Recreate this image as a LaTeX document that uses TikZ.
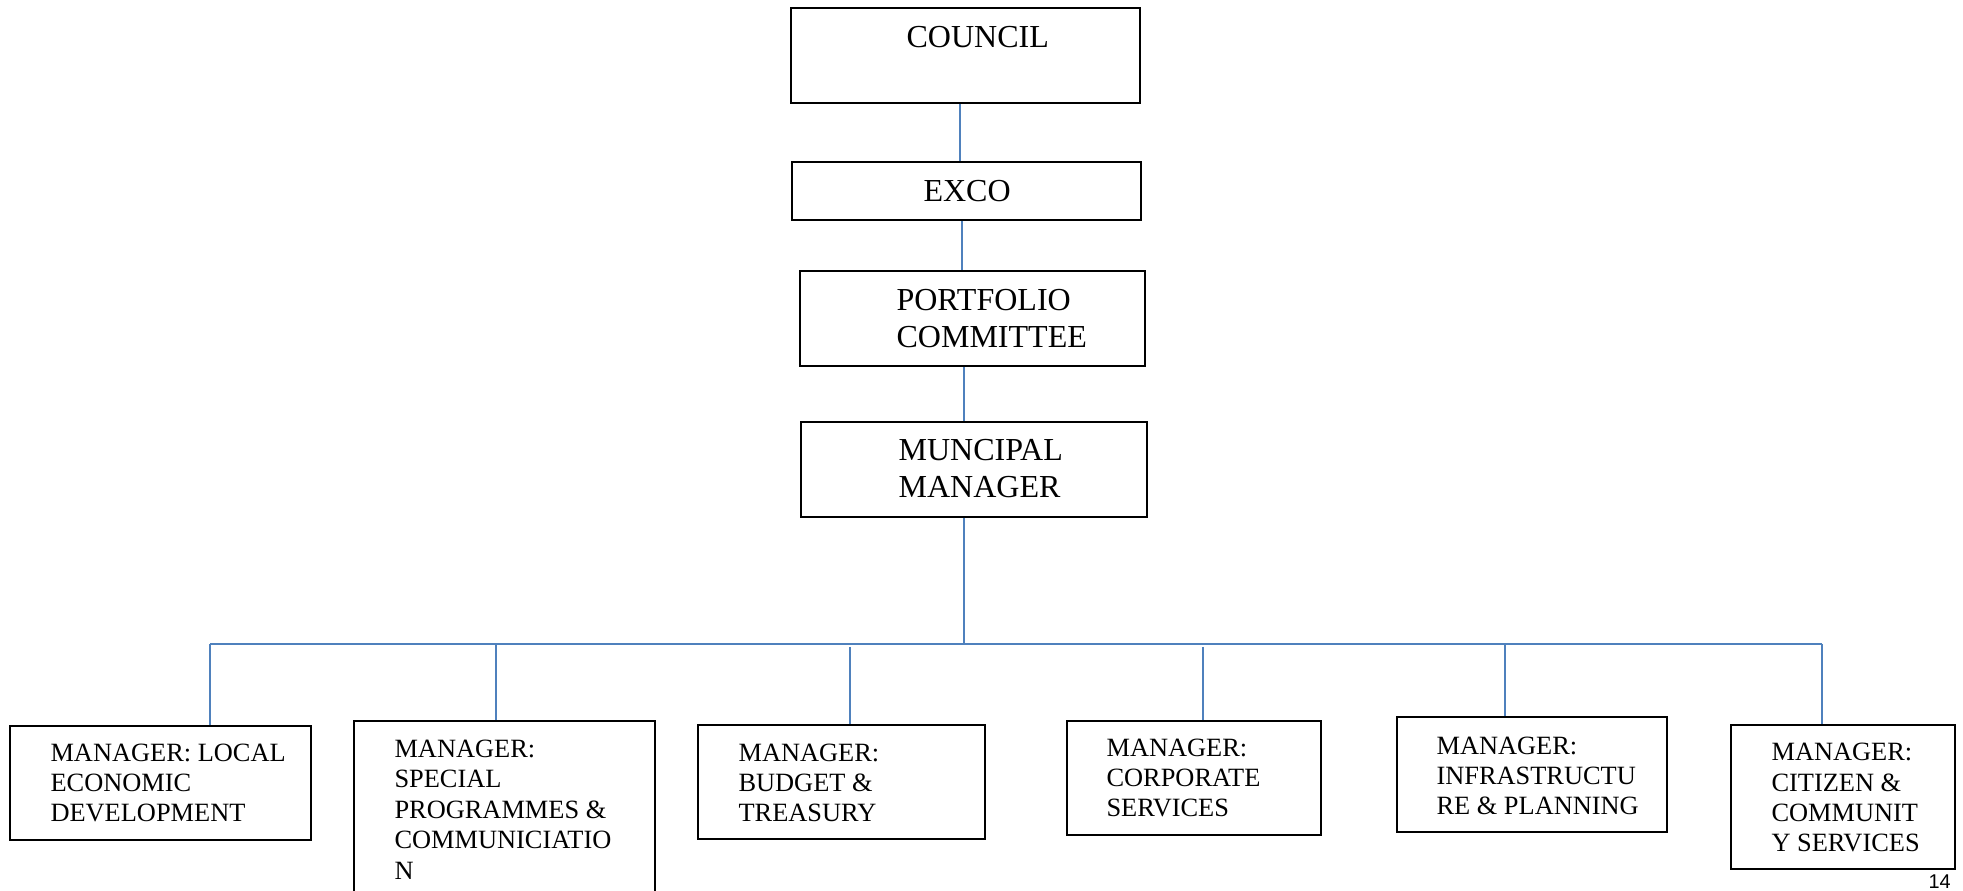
\documentclass[tikz,border=0pt]{standalone}
\usepackage{fontspec}
\setmainfont{Liberation Serif}
\newfontfamily\pagefont{Liberation Sans}
\usepackage{tikz}
\usetikzlibrary{fit}
\definecolor{LinkBlue}{RGB}{79,129,189}
\tikzstyle{unit} = [rectangle, draw=black, line width=0.6pt, inner sep=0pt]
\tikzstyle{toplabel} = [anchor=base west, align=left, inner sep=0pt, font=\fontsize{11.9}{13.75}\selectfont]
\tikzstyle{mgrlabel} = [anchor=base west, align=left, inner sep=0pt, font=\fontsize{9.8}{11.33}\selectfont]
\tikzstyle{link} = [draw=LinkBlue, line width=0.5pt]

\begin{document}
\begin{tikzpicture}[x=0.3715pt, y=-0.3715pt]
      \clip (0,0) rectangle (1963,891);
      % top of the chain
      \node (council) [unit, fit={(791,8) (1140,103)}] {};
      \node (council_txt) [toplabel] at (906,48) {COUNCIL};
      \node (exco) [unit, fit={(792,162) (1141,220)}] {};
      \node (exco_txt) [toplabel] at (923,202) {EXCO};
      \draw [link] (council.south -| 960,0) -- (exco.north -| 960,0);
      \node (portfolio) [unit, fit={(800,271) (1145,366)}] {};
      \node (portfolio_txt) [toplabel] at (896,348) {PORTFOLIO\\COMMITTEE};
      \draw [link] (exco.south -| 962,0) -- (portfolio.north -| 962,0);
      \node (mm) [unit, fit={(801,422) (1147,517)}] {};
      \node (mm_txt) [toplabel] at (898,498) {MUNCIPAL\\MANAGER};
      \draw [link] (portfolio.south -| 964,0) -- (mm.north -| 964,0);
      % branch line
      \coordinate (hub) at (964,644);
      \coordinate (bus_w) at (210,644);
      \coordinate (bus_e) at (1822,644);
      \draw [link] (mm.south -| hub) -- (hub);
      \draw [link] (bus_w) -- (bus_e);
      % managers
      \node (led) [unit, fit={(10,726) (311,840)}] {};
      \node (led_txt) [mgrlabel] at (50,822) {MANAGER: LOCAL\\ECONOMIC\\DEVELOPMENT};
      \draw [link] (bus_w) -- (led.north -| bus_w);
      \node (spc) [unit, fit={(354,721) (655,905)}] {};
      \node (spc_txt) [mgrlabel] at (394,879) {MANAGER:\\SPECIAL\\PROGRAMMES \&\\COMMUNICIATIO\\N};
      \coordinate (drop_spc) at (496,644);
      \draw [link] (drop_spc) -- (spc.north -| drop_spc);
      \node (bt) [unit, fit={(698,725) (985,839)}] {};
      \node (bt_txt) [mgrlabel] at (738,822) {MANAGER:\\BUDGET \&\\TREASURY};
      \coordinate (drop_bt) at (850,647);
      \draw [link] (drop_bt) -- (bt.north -| drop_bt);
      \node (cs) [unit, fit={(1067,721) (1321,835)}] {};
      \node (cs_txt) [mgrlabel] at (1106,817) {MANAGER:\\CORPORATE\\SERVICES};
      \coordinate (drop_cs) at (1203,647);
      \draw [link] (drop_cs) -- (cs.north -| drop_cs);
      \node (ip) [unit, fit={(1397,717) (1667,832)}] {};
      \node (ip_txt) [mgrlabel] at (1436,815) {MANAGER:\\INFRASTRUCTU\\RE \& PLANNING};
      \coordinate (drop_ip) at (1505,644);
      \draw [link] (drop_ip) -- (ip.north -| drop_ip);
      \node (ccs) [unit, fit={(1731,725) (1955,869)}] {};
      \node (ccs_txt) [mgrlabel] at (1771,852) {MANAGER:\\CITIZEN \&\\COMMUNIT\\Y SERVICES};
      \draw [link] (bus_e) -- (ccs.north -| bus_e);
      % page number
      \node (page_no) [anchor=base west, inner sep=0pt, font=\pagefont\fontsize{7.4}{8}\selectfont] at (1928,889) {14};
\end{tikzpicture}
\end{document}
